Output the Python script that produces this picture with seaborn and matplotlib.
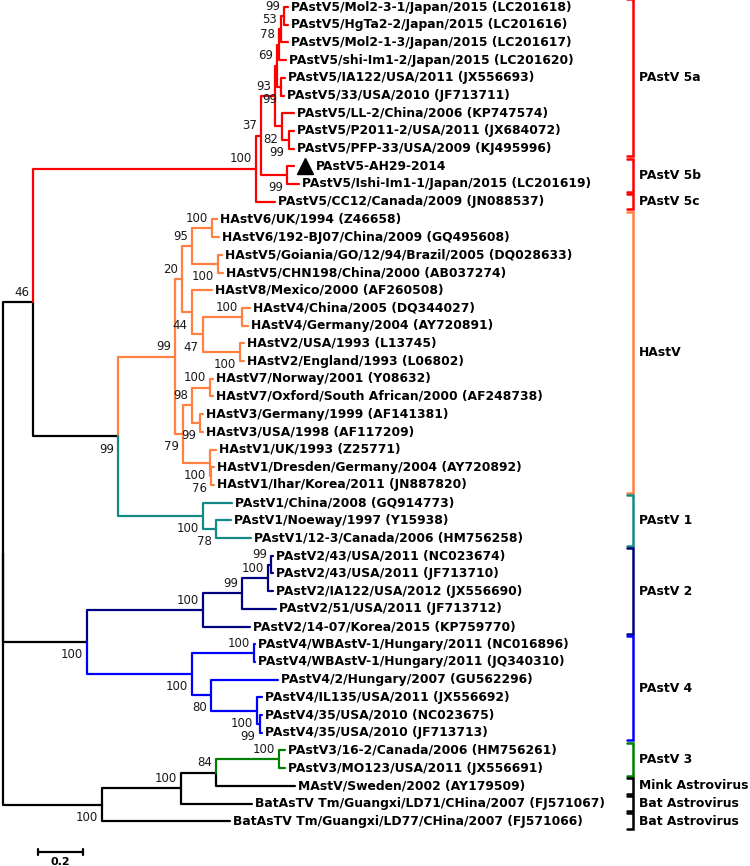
import re
import pandas as pd
import matplotlib
matplotlib.use("Agg")
import matplotlib.pyplot as plt
import seaborn as sns

# leaf labels, top to bottom
leaf_names = [
    "PAstV5/Mol2-3-1/Japan/2015 (LC201618)",
    "PAstV5/HgTa2-2/Japan/2015 (LC201616)",
    "PAstV5/Mol2-1-3/Japan/2015 (LC201617)",
    "PAstV5/shi-Im1-2/Japan/2015 (LC201620)",
    "PAstV5/IA122/USA/2011 (JX556693)",
    "PAstV5/33/USA/2010 (JF713711)",
    "PAstV5/LL-2/China/2006 (KP747574)",
    "PAstV5/P2011-2/USA/2011 (JX684072)",
    "PAstV5/PFP-33/USA/2009 (KJ495996)",
    "PAstV5-AH29-2014",
    "PAstV5/Ishi-Im1-1/Japan/2015 (LC201619)",
    "PAstV5/CC12/Canada/2009 (JN088537)",
    "HAstV6/UK/1994 (Z46658)",
    "HAstV6/192-BJ07/China/2009 (GQ495608)",
    "HAstV5/Goiania/GO/12/94/Brazil/2005 (DQ028633)",
    "HAstV5/CHN198/China/2000 (AB037274)",
    "HAstV8/Mexico/2000 (AF260508)",
    "HAstV4/China/2005 (DQ344027)",
    "HAstV4/Germany/2004 (AY720891)",
    "HAstV2/USA/1993 (L13745)",
    "HAstV2/England/1993 (L06802)",
    "HAstV7/Norway/2001 (Y08632)",
    "HAstV7/Oxford/South African/2000 (AF248738)",
    "HAstV3/Germany/1999 (AF141381)",
    "HAstV3/USA/1998 (AF117209)",
    "HAstV1/UK/1993 (Z25771)",
    "HAstV1/Dresden/Germany/2004 (AY720892)",
    "HAstV1/Ihar/Korea/2011 (JN887820)",
    "PAstV1/China/2008 (GQ914773)",
    "PAstV1/Noeway/1997 (Y15938)",
    "PAstV1/12-3/Canada/2006 (HM756258)",
    "PAstV2/43/USA/2011 (NC023674)",
    "PAstV2/43/USA/2011 (JF713710)",
    "PAstV2/IA122/USA/2012 (JX556690)",
    "PAstV2/51/USA/2011 (JF713712)",
    "PAstV2/14-07/Korea/2015 (KP759770)",
    "PAstV4/WBAstV-1/Hungary/2011 (NC016896)",
    "PAstV4/WBAstV-1/Hungary/2011 (JQ340310)",
    "PAstV4/2/Hungary/2007 (GU562296)",
    "PAstV4/IL135/USA/2011 (JX556692)",
    "PAstV4/35/USA/2010 (NC023675)",
    "PAstV4/35/USA/2010 (JF713713)",
    "PAstV3/16-2/Canada/2006 (HM756261)",
    "PAstV3/MO123/USA/2011 (JX556691)",
    "MAstV/Sweden/2002 (AY179509)",
    "BatAsTV Tm/Guangxi/LD71/CHina/2007 (FJ571067)",
    "BatAsTV Tm/Guangxi/LD77/CHina/2007 (FJ571066)",
]
query_leaf = 9

# tree: leaves are indices into leaf_names, internal labels are bootstrap values
pastv5 = ("(((((((0:0.018,1:0.018)99:0.013,2:0.031)53:0.009,3:0.031)78:0.009,"
          "(4:0.018,5:0.013)99:0.018)69:0.009,(6:0.053,(7:0.022,8:0.022)99:0.031)82:0.031)93:0.062,"
          "(9:0.031,10:0.053)99:0.116)37:0.022,11:0.084)100:0.991")
hastv = ("((((12:0.022,13:0.031)100:0.089,(14:0.018,15:0.022)100:0.116)95:0.044,"
         "(16:0.089,((17:0.036,18:0.027)100:0.173,(19:0.018,20:0.018)100:0.164)47:0.049)44:0.044)20:0.031,"
         "(((21:0.013,22:0.013)100:0.08,(23:0.013,24:0.013)99:0.036)98:0.04,"
         "(25:0.027,(26:0.013,27:0.013)76:0.004)100:0.12)79:0.036)99:0.253")
pastv1 = "(28:0.129,(29:0.067,30:0.156)78:0.058)100:0.378"
pastv2 = "((((31:0.009,32:0.009)99:0.013,33:0.022)100:0.116,34:0.151)99:0.173,35:0.209)100:0.516"
pastv4 = ("((36:0.004,37:0.004)100:0.276,(38:0.298,(39:0.022,(40:0.009,41:0.009)99:0.013)100:0.204)80:0.084)"
          "100:0.467")
outgroup = "((((42:0.027,43:0.027)100:0.28,44:0.351)84:0.156,45:0.316)100:0.351,46:0.569)100:0.44"
newick = (f"(({pastv5},({hastv},{pastv1})99:0.378)46:0.133,"
          f"({pastv2},{pastv4})100:0.373,{outgroup});")

# clade brackets on the right
clade_names = ["PAstV 5a", "PAstV 5b", "PAstV 5c", "HAstV", "PAstV 1", "PAstV 2",
               "PAstV 4", "PAstV 3", "Mink Astrovirus", "Bat Astrovirus", "Bat Astrovirus"]
clade_first = [0, 9, 11, 12, 28, 31, 36, 42, 44, 45, 46]
clade_last = [8, 10, 11, 27, 30, 35, 41, 43, 44, 45, 46]
clade_colors = ["#FF0000", "#FF0000", "#FF0000", "#FF8040", "#138A84", "#000080",
                "#0000FF", "#008000", "black", "black", "black"]

scale_len = 0.2


def parse_newick(s):
    pos = 0

    def node():
        nonlocal pos
        n = {"children": [], "label": "", "bl": 0.0}
        if s[pos] == "(":
            pos += 1
            n["children"].append(node())
            while s[pos] == ",":
                pos += 1
                n["children"].append(node())
            pos += 1
        lab = re.match(r"[^:,();]*", s[pos:]).group(0)
        n["label"] = lab
        pos += len(lab)
        if pos < len(s) and s[pos] == ":":
            pos += 1
            num = re.match(r"[0-9.eE+-]+", s[pos:]).group(0)
            n["bl"] = float(num)
            pos += len(num)
        return n

    return node()


def layout(n, x0=0.0):
    n["x"] = x0 + n["bl"]
    if not n["children"]:
        n["leaf"] = int(n["label"])
        n["y"] = n["leaf"]
        n["leaves"] = [n["leaf"]]
        return
    for c in n["children"]:
        layout(c, n["x"])
    n["y"] = (n["children"][0]["y"] + n["children"][-1]["y"]) / 2
    n["leaves"] = [l for c in n["children"] for l in c["leaves"]]


root = parse_newick(newick)
root["bl"] = 0.0
layout(root)

leaf_color = {}
for f, l, c in zip(clade_first, clade_last, clade_colors):
    for i in range(f, l + 1):
        leaf_color[i] = c


def node_color(n):
    cols = {leaf_color[i] for i in n["leaves"]}
    return cols.pop() if len(cols) == 1 else "black"


# collect elbows (parent -> child) and bootstrap labels
rows, supports, tips = [], [], []
stack = [root]
seg = 0
while stack:
    n = stack.pop()
    for k, c in enumerate(n["children"]):
        col = node_color(c)
        for px, py in [(n["x"], n["y"]), (n["x"], c["y"]), (c["x"], c["y"])]:
            rows.append({"seg": seg, "x": px, "y": py, "color": col})
        seg += 1
        if c["children"]:
            if c["label"]:
                supports.append((c["x"], c["y"], c["label"], k == 0))
            stack.append(c)
        else:
            tips.append((c["x"], c["y"], c["leaf"]))
segs = pd.DataFrame(rows)

sns.set_style("white")
plt.rcParams["font.family"] = ["DejaVu Sans"]
plt.rcParams["text.color"] = "black"

fig = plt.figure(figsize=(7.5, 8.66), dpi=100)
ax = fig.add_axes([0, 0, 1, 1])

palette = {c: c for c in segs["color"].unique()}
sns.lineplot(data=segs, x="x", y="y", units="seg", estimator=None, sort=False,
             hue="color", palette=palette, legend=False, linewidth=1.6, ax=ax)

# leaf names
for x, y, i in tips:
    if i == query_leaf:
        ax.plot([x + 11 * scale_len / 45], [y], marker="^", ms=11, color="black", ls="none")
        ax.annotate(leaf_names[i], (x, y), xytext=(16, 0), textcoords="offset points",
                    ha="left", va="center", fontsize=8.9, fontweight="bold", color="black")
    else:
        ax.annotate(leaf_names[i], (x, y), xytext=(2.2, 0), textcoords="offset points",
                    ha="left", va="center", fontsize=8.9, fontweight="bold", color="black")

# bootstrap values: above the branch for the upper child, below for the rest
for x, y, lab, upper in supports:
    ax.annotate(lab, (x, y), xytext=(-2.9, 7.0 if upper else -9.2), textcoords="offset points",
                ha="right", va="center", fontsize=8.5, color="#1a1a1a")

# clade brackets
bx = 2.8
for name, f, l, c in zip(clade_names, clade_first, clade_last, clade_colors):
    y0, y1 = f - 0.44, l + 0.44
    ax.plot([bx - 0.027, bx, bx, bx - 0.027], [y0, y0, y1, y1], color=c, lw=1.8,
            solid_joinstyle="miter")
    ax.text(bx + 0.025, (f + l) / 2, name, ha="left", va="center",
            fontsize=8.9, fontweight="bold", color="black")

# scale bar
sx, sy = 0.1556, 47.74
ax.plot([sx, sx + scale_len], [sy, sy], color="black", lw=1.6)
for xx in (sx, sx + scale_len):
    ax.plot([xx, xx], [sy - 0.17, sy + 0.17], color="black", lw=1.6)
ax.text(sx + scale_len / 2, sy + 0.55, f"{scale_len:.1f}", ha="center", va="center",
        fontsize=8, fontweight="bold", color="black")

ax.set_xlim(-3 / 225, 747 / 225)
ax.set_ylim((866 - 7) / 17.7, -7 / 17.7)
ax.axis("off")

fig.savefig("out.png", dpi=100)
